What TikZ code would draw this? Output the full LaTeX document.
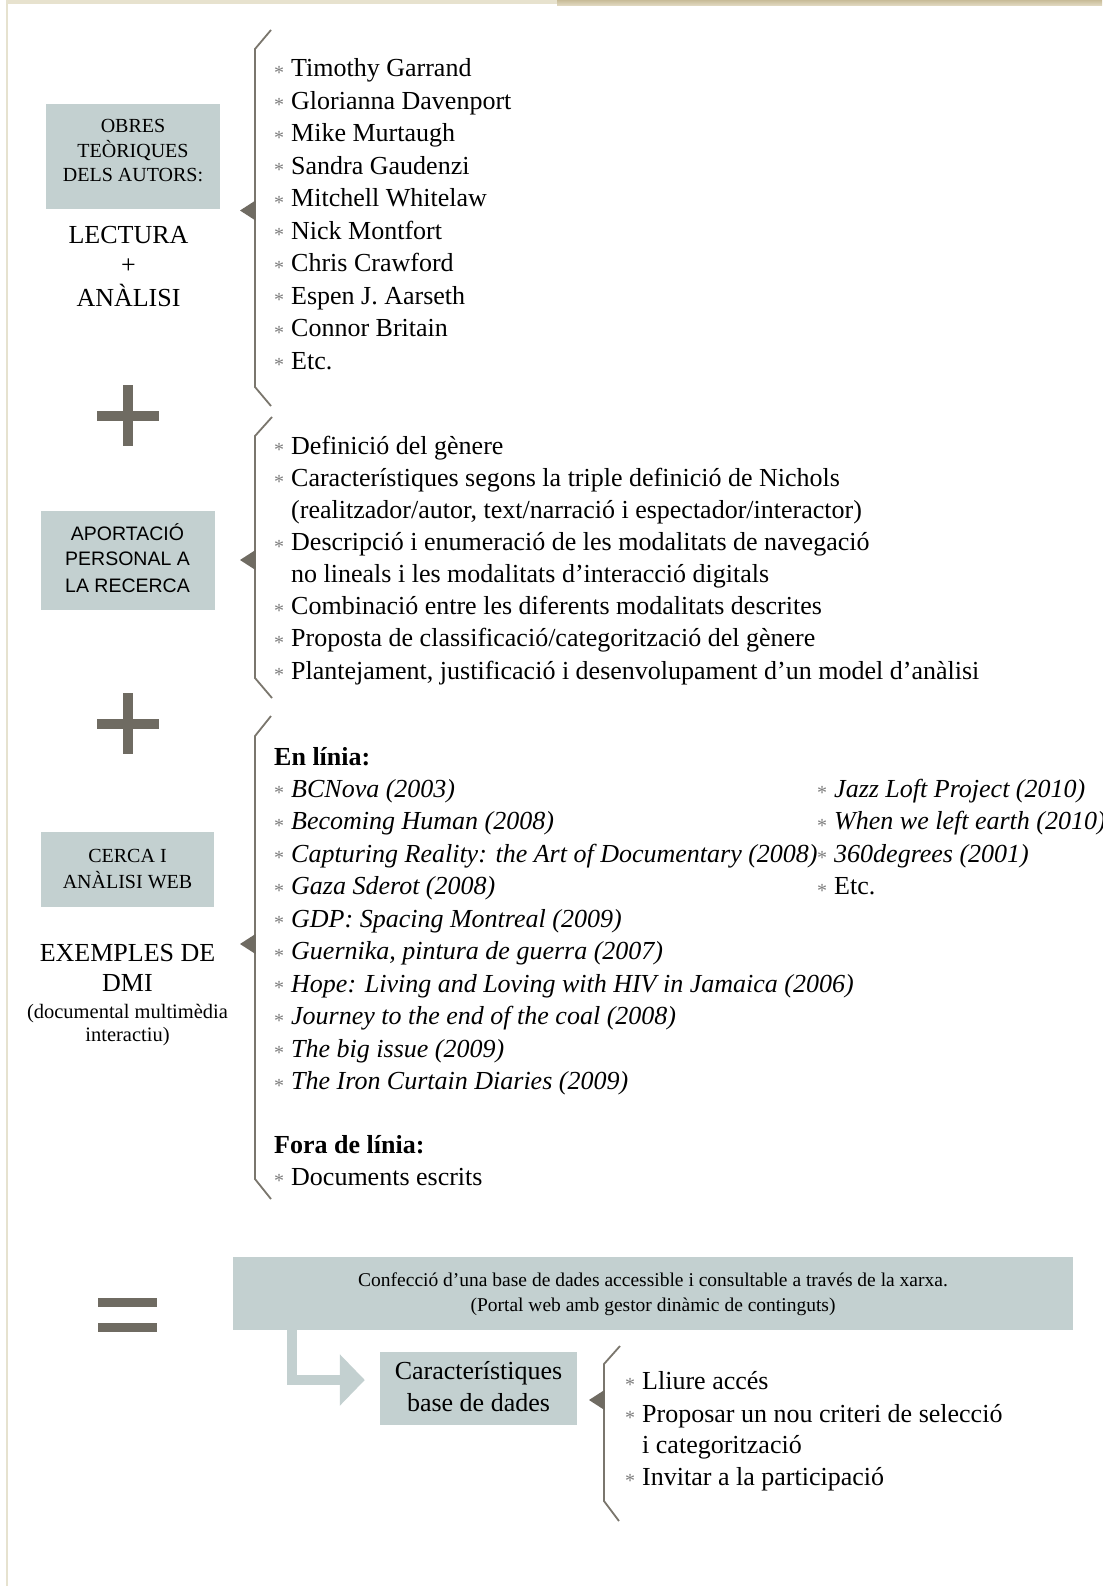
\documentclass[tikz,border=0pt]{standalone}
\usepackage{fontspec}
\setmainfont{Liberation Serif}
\newfontfamily\sansf{Liberation Sans}
\usetikzlibrary{arrows.meta,calc}
\definecolor{boxfill}{HTML}{C3D0D0}
\definecolor{symgray}{HTML}{6F6B62}
\definecolor{brgray}{HTML}{7A766D}
\definecolor{stargray}{HTML}{7E7E7E}
\definecolor{topbeige}{HTML}{E7E2CE}
\definecolor{tanA}{HTML}{C8BC98}
\definecolor{tanB}{HTML}{E4DCC6}
\definecolor{edgebeige}{HTML}{E6E2CF}
\newcommand\bstar{\makebox[8pt][c]{\textcolor{stargray}{\raisebox{-2.5pt}{\fontsize{20}{20}\selectfont *}}}\hspace{8pt}}
\tikzset{
  item/.style={anchor=base west, inner sep=0pt, font=\fontsize{26}{26}\selectfont},
  ctext/.style={anchor=base, inner sep=0pt, font=\fontsize{26}{26}\selectfont},
  btext/.style={anchor=base, inner sep=0pt, font=\fontsize{20}{20}\selectfont},
  gbox/.style={fill=boxfill, draw=none, inner sep=0pt},
  brack/.style={draw=brgray, line width=1.8pt, line join=miter},
  ptr/.style={fill=symgray},
  sym/.style={fill=symgray},
}
\begin{document}
\begin{tikzpicture}[x=1pt,y=-1pt]
\useasboundingbox (0,0) rectangle (1102,1586);
\fill[white] (0,0) rectangle (1102,1586);
% page decoration
\fill[topbeige] (7,0) rectangle (557,4);
\shade[top color=tanA, bottom color=tanB] (557,0) rectangle (1102,6);
\fill[edgebeige] (6,0) rectangle (8,1586);

% ---------- left boxes ----------
\node[gbox, minimum width=174pt, minimum height=105pt] (box1) at (133,156.5) {};
\node[btext] (b1a) at (133,133) {OBRES};
\node[btext] (b1b) at (133,158) {TEÒRIQUES};
\node[btext] (b1c) at (133,182) {DELS AUTORS:};
\node[ctext] (lec1) at (128.5,244) {LECTURA};
\node[ctext] (lec2) at (128.5,274) {+};
\node[ctext] (lec3) at (128.5,306.5) {ANÀLISI};

\node[gbox, minimum width=174pt, minimum height=99pt] (box2) at (127.5,560.5) {};
\node[btext, font=\sansf\fontsize{19.5}{20}\selectfont] (b2a) at (127.5,540) {APORTACIÓ};
\node[btext, font=\sansf\fontsize{19.5}{20}\selectfont] (b2b) at (127.5,565.6) {PERSONAL A};
\node[btext, font=\sansf\fontsize{19.5}{20}\selectfont] (b2c) at (127.5,592) {LA RECERCA};

\node[gbox, minimum width=173pt, minimum height=75pt] (box3) at (127.5,869.5) {};
\node[btext] (b3a) at (127.5,862.5) {CERCA I};
\node[btext] (b3b) at (127.5,888) {ANÀLISI WEB};
\node[ctext] (ex1) at (127.5,961) {EXEMPLES DE};
\node[ctext] (ex2) at (127.5,991.7) {DMI};
\node[btext, font=\fontsize{20.5}{20}\selectfont] (ex3) at (127.5,1018) {(documental multimèdia};
\node[btext, font=\fontsize{20.5}{20}\selectfont] (ex4) at (127.5,1041) {interactiu)};

% ---------- plus / equals ----------
\fill[sym] (97,410.5) rectangle (159,420.5);
\fill[sym] (123,385) rectangle (133,446);
\fill[sym] (96.5,718.6) rectangle (158.5,728.6);
\fill[sym] (122.5,693) rectangle (132.5,754);
\fill[sym] (98,1298) rectangle (157,1307);
\fill[sym] (98,1323) rectangle (157,1332);

% ---------- brackets ----------
\draw[brack] (271,30) -- (255,49) -- (255,387) -- (271,406);
\fill[ptr] (240,210.5) -- (255.5,200.5) -- (255.5,220.5) -- cycle;
\draw[brack] (272,417) -- (255,436) -- (255,678) -- (272,698);
\fill[ptr] (240,560) -- (255.5,550) -- (255.5,570) -- cycle;
\draw[brack] (271,716) -- (255,736) -- (255,1179) -- (271,1199);
\fill[ptr] (240,944) -- (255.5,934) -- (255.5,954) -- cycle;
\draw[brack] (620,1346) -- (604,1364) -- (604,1501) -- (619,1521);
\fill[ptr] (589,1400) -- (604.5,1390) -- (604.5,1410) -- cycle;

% ---------- list 1 ----------
\node[item] (a0) at (275,76.8)  {\bstar Timothy Garrand};
\node[item] (a1) at (275,109.3) {\bstar Glorianna Davenport};
\node[item] (a2) at (275,141.8) {\bstar Mike Murtaugh};
\node[item] (a3) at (275,174.3) {\bstar Sandra Gaudenzi};
\node[item] (a4) at (275,206.8) {\bstar Mitchell Whitelaw};
\node[item] (a5) at (275,239.3) {\bstar Nick Montfort};
\node[item] (a6) at (275,271.8) {\bstar Chris Crawford};
\node[item] (a7) at (275,304.3) {\bstar Espen J. Aarseth};
\node[item] (a8) at (275,336.8) {\bstar Connor Britain};
\node[item] (a9) at (275,369.3) {\bstar Etc.};

% ---------- list 2 ----------
\node[item] (p0) at (275,454.3) {\bstar Definició del gènere};
\node[item] (p1) at (275,486.4) {\bstar Característiques segons la triple definició de Nichols};
\node[item] (p2) at (291,518.5) {(realitzador/autor, text/narració i espectador/interactor)};
\node[item] (p3) at (275,550.6) {\bstar Descripció i enumeració de les modalitats de navegació};
\node[item] (p4) at (291,582.7) {no lineals i les modalitats d’interacció digitals};
\node[item] (p5) at (275,614.8) {\bstar Combinació entre les diferents modalitats descrites};
\node[item] (p6) at (275,646.9) {\bstar Proposta de classificació/categorització del gènere};
\node[item] (p7) at (275,679.0) {\bstar Plantejament, justificació i desenvolupament d’un model d’anàlisi};

% ---------- list 3 ----------
\node[item] (enl) at (274,765) {\bfseries En línia:};
\node[item] (c0) at (275,797.4)  {\bstar\itshape BCNova (2003)};
\node[item] (c1) at (275,829.9)  {\bstar\itshape Becoming Human (2008)};
\node[item] (c2) at (275,862.4)  {\bstar\itshape Capturing Reality: the Art of Documentary (2008)};
\node[item] (c3) at (275,894.9)  {\bstar\itshape Gaza Sderot (2008)};
\node[item] (c4) at (275,927.4)  {\bstar\itshape GDP: Spacing Montreal (2009)};
\node[item] (c5) at (275,959.9)  {\bstar\itshape Guernika, pintura de guerra (2007)};
\node[item] (c6) at (275,992.4)  {\bstar\itshape Hope: Living and Loving with HIV in Jamaica (2006)};
\node[item] (c7) at (275,1024.9) {\bstar\itshape Journey to the end of the coal (2008)};
\node[item] (c8) at (275,1057.4) {\bstar\itshape The big issue (2009)};
\node[item] (c9) at (275,1089.9) {\bstar\itshape The Iron Curtain Diaries (2009)};
\node[item] (d0) at (818,797.4) {\bstar\itshape Jazz Loft Project (2010)};
\node[item] (d1) at (818,829.9) {\bstar\itshape When we left earth (2010)};
\node[item] (d2) at (818,862.4) {\bstar\itshape 360degrees (2001)};
\node[item] (d3) at (818,894.9) {\bstar Etc.};
\node[item] (fdl) at (274,1153) {\bfseries Fora de línia:};
\node[item] (f0) at (275,1185) {\bstar Documents escrits};

% ---------- result ----------
\node[gbox, minimum width=840pt, minimum height=73pt] (big) at (653,1293.5) {};
\node[btext, font=\fontsize{19.5}{20}\selectfont] (bg1) at (653,1286) {Confecció d’una base de dades accessible i consultable a través de la xarxa.};
\node[btext, font=\fontsize{19.5}{20}\selectfont] (bg2) at (653,1311) {(Portal web amb gestor dinàmic de continguts)};
\node[gbox, minimum width=197pt, minimum height=73pt] (car) at (478.5,1388.5) {};
\node[ctext] (car1) at (478.5,1379) {Característiques};
\node[ctext] (car2) at (478.5,1411) {base de dades};
\draw[boxfill, line width=10pt, line join=miter, shorten >=15pt,
      -{Triangle[length=25pt,width=50pt]}]
  ($(big.south west)+(59,0)$) |- ($(car.west)+(0,-8.5)$);

% ---------- list 4 ----------
\node[item] (g0) at (626,1389) {\bstar Lliure accés};
\node[item] (g1) at (626,1422) {\bstar Proposar un nou criteri de selecció};
\node[item] (g2) at (642,1453) {i categorització};
\node[item] (g3) at (626,1485) {\bstar Invitar a la participació};
\end{tikzpicture}
\end{document}
